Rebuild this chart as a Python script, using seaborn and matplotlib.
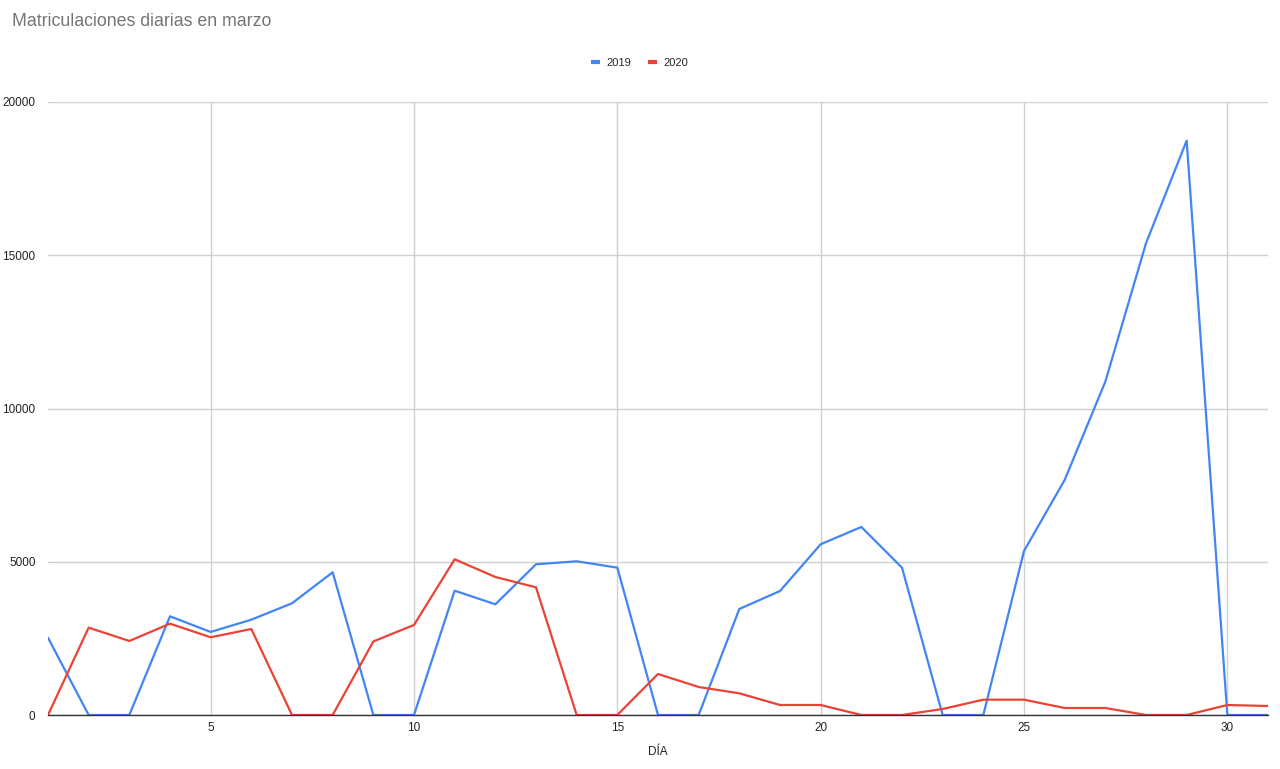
import pandas as pd
import matplotlib
matplotlib.use("Agg")
import matplotlib.pyplot as plt
import seaborn as sns

# ------------------------------------------------------------
# Datos (matriculaciones diarias, marzo)
# ------------------------------------------------------------

dias = list(range(1, 32))

valores_2019 = [2520, 0, 0, 3220, 2710, 3110, 3645, 4655, 0, 0,
                4056, 3612, 4917, 5015, 4807, 0, 0, 3459, 4046, 5570,
                6135, 4807, 0, 0, 5351, 7668, 10876, 15391, 18740, 0, 0]

valores_2020 = [0, 2850, 2415, 2980, 2535, 2806, 0, 0, 2400, 2937,
                5080, 4503, 4166, 0, 0, 1338, 914, 707, 326, 326,
                0, 0, 196, 500, 500, 228, 228, 0, 0, 326, 294]

series = ["2019", "2020"]
colores = ["#4285F4", "#EA4335"]

df = pd.DataFrame({
    "dia": dias * 2,
    "valor": valores_2019 + valores_2020,
    "anio": [series[0]] * len(dias) + [series[1]] * len(dias),
})

# ------------------------------------------------------------
# Grafico
# ------------------------------------------------------------

sns.set_style("white")
plt.rcParams["font.family"] = ["Liberation Sans", "DejaVu Sans"]

fig, ax = plt.subplots(figsize=(12.8, 7.69), dpi=100)
fig.subplots_adjust(left=48 / 1280, right=1268 / 1280,
                    top=1 - 102 / 769, bottom=1 - 715 / 769)

sns.lineplot(data=df, x="dia", y="valor", hue="anio",
             palette=dict(zip(series, colores)), linewidth=1.6,
             ax=ax, legend=False)

ax.set_xlim(1, 31)
ax.set_ylim(0, 20000)
ax.set_xticks([5, 10, 15, 20, 25, 30])
ax.set_yticks([0, 5000, 10000, 15000, 20000])
ax.grid(True, color="#d0d0d0", linewidth=1)
ax.set_axisbelow(True)
for lado in ["top", "right", "left"]:
    ax.spines[lado].set_visible(False)
ax.spines["bottom"].set_color("#333333")
ax.spines["bottom"].set_linewidth(1)
ax.tick_params(axis="both", length=0, labelsize=8.5, colors="#222222")
ax.tick_params(axis="y", pad=9)
ax.tick_params(axis="x", pad=5)

ax.set_xlabel("DÍA", fontsize=8.5, color="#222222", labelpad=9)
ax.set_ylabel("")

fig.text(12 / 1280, 1 - 22 / 769, "Matriculaciones diarias en marzo",
         fontsize=12.8, color="#757575", va="center", ha="left")

handles = [plt.Line2D([], [], color=c, linewidth=3, solid_capstyle="butt")
           for c in colores]
fig.legend(handles, series, loc="center", bbox_to_anchor=(0.5, 1 - 63 / 769),
           ncol=2, frameon=False, fontsize=8, handlelength=0.8,
           columnspacing=1.5, handletextpad=0.6)

plt.savefig("out.png", dpi=100)
plt.close()
